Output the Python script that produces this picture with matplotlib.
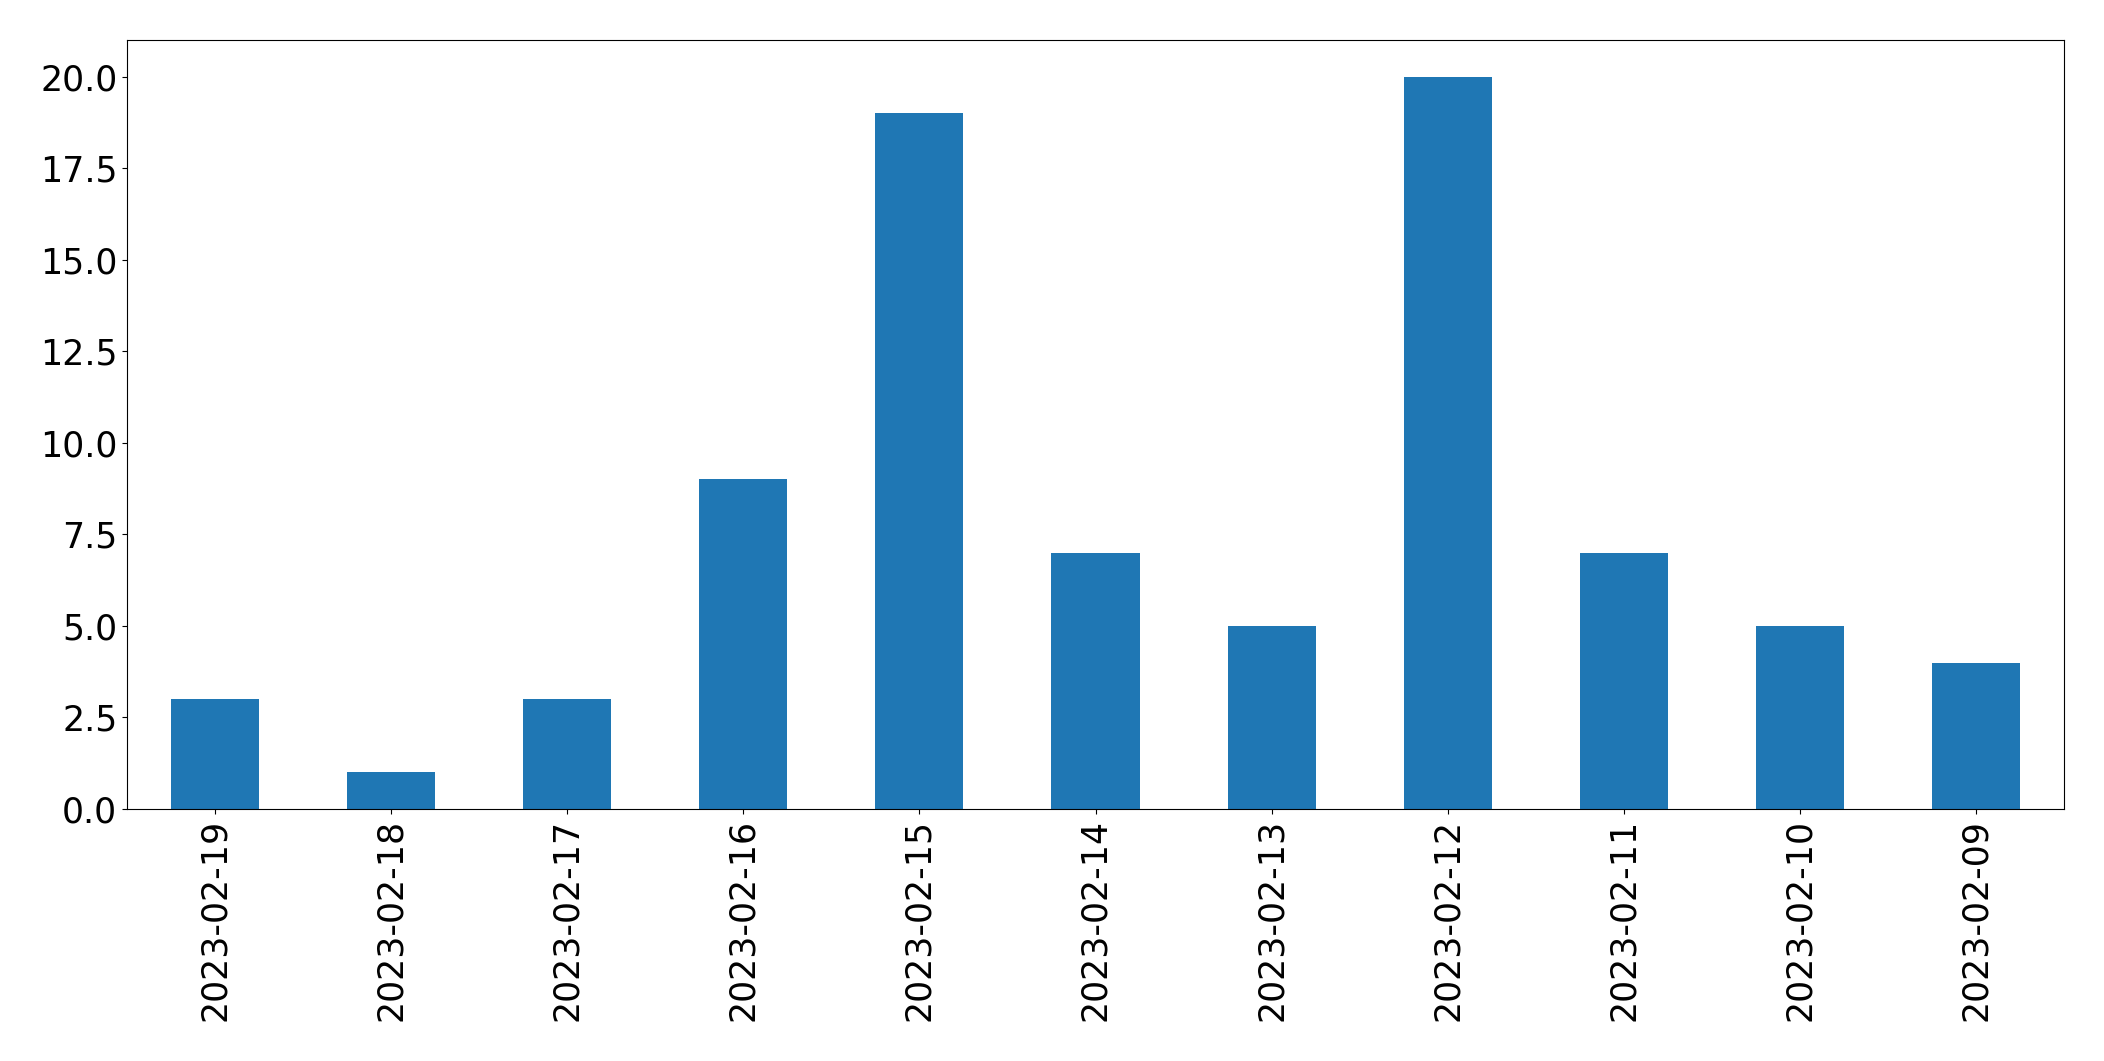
import matplotlib
matplotlib.use("Agg")
import matplotlib.pyplot as plt
import pandas as pd

dates = ["2023-02-19", "2023-02-18", "2023-02-17", "2023-02-16", "2023-02-15",
         "2023-02-14", "2023-02-13", "2023-02-12", "2023-02-11", "2023-02-10",
         "2023-02-09"]
counts = [3, 1, 3, 9, 19, 7, 5, 20, 7, 5, 4]

W, H = 2104, 1061
fig = plt.figure(figsize=(W / 100, H / 100), dpi=100)
ax = fig.add_axes([127 / W, 1 - 809 / H, (2064 - 127) / W, (809 - 40) / H])

s = pd.Series(counts, index=dates)
s.plot(kind="bar", ax=ax, color="#1f77b4")
ax.tick_params(axis="both", labelsize=25)
ax.set_xlabel("")

fig.savefig("out.png", dpi=100)
